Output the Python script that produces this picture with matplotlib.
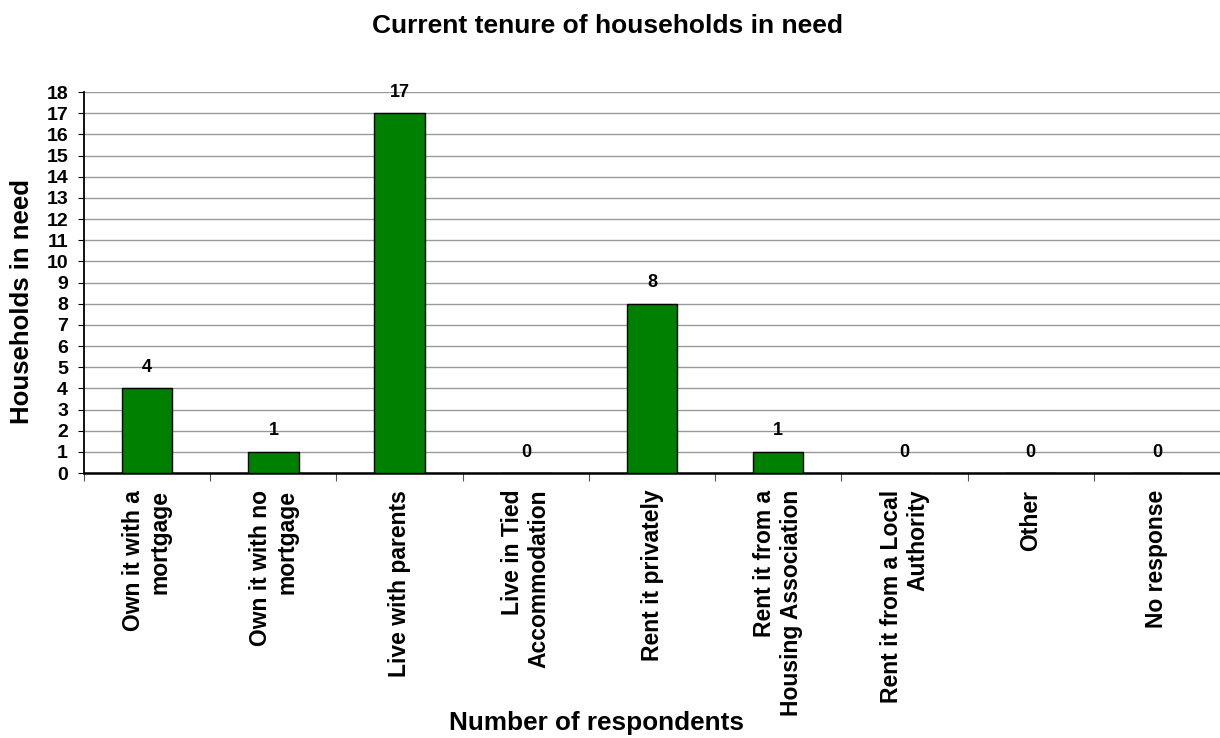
import numpy as np
import matplotlib.pyplot as plt

plt.rcParams['font.family'] = ['Liberation Sans', 'DejaVu Sans']

# ------------------------------------------------------------
# Data
# ------------------------------------------------------------
categories = [
    "Own it with a\nmortgage",
    "Own it with no\nmortgage",
    "Live with parents",
    "Live in Tied\nAccommodation",
    "Rent it privately",
    "Rent it from a\nHousing Association",
    "Rent it from a Local\nAuthority",
    "Other",
    "No response",
]
households = [4, 1, 17, 0, 8, 1, 0, 0, 0]

# ------------------------------------------------------------
# Figure
# ------------------------------------------------------------
fig = plt.figure(figsize=(12.2, 7.38), dpi=100)
ax = fig.add_axes([0.0689, 0.359, 0.9311, 0.5163])

x = np.arange(len(categories))
ax.bar(x, households, width=0.4, color="#008000", edgecolor="black",
       linewidth=1.0, zorder=3)

for xi, v in zip(x, households):
    ax.annotate(str(v), (xi, v), xytext=(0, 9), textcoords="offset points",
                ha="center", va="bottom", fontsize=13, fontweight="bold",
                zorder=4)

ax.set_xlim(-0.5, len(categories) - 0.5)
ax.set_ylim(0, 18)
ax.set_yticks(range(0, 19))
ax.yaxis.grid(True, color="#999999", linewidth=1.0, zorder=0)
ax.set_axisbelow(True)

# ticks at category boundaries, labels at centres
ax.set_xticks(np.arange(-0.5, len(categories) - 0.5, 1.0))
ax.set_xticklabels([])
ax.set_xticks(x, minor=True)
ax.set_xticklabels(categories, minor=True, rotation=90, fontsize=16.5,
                   fontweight="bold", ha="center", va="top",
                   multialignment="right")
ax.tick_params(axis="x", which="minor", length=0, pad=12)
ax.tick_params(axis="x", which="major", length=6, color="#555555")
ax.tick_params(axis="y", length=4.5, labelsize=14, pad=7)
for lab in ax.get_yticklabels():
    lab.set_fontweight("bold")

for side in ["top", "right"]:
    ax.spines[side].set_visible(False)
ax.spines["left"].set_linewidth(1.3)
ax.spines["bottom"].set_linewidth(1.8)

fig.text(0.018, 0.592, "Households in need", rotation=90, ha="center",
         va="center", fontsize=18.5, fontweight="bold")
fig.text(0.489, 0.020, "Number of respondents", ha="center", va="center",
         fontsize=18.8, fontweight="bold")
fig.text(0.498, 0.955, "Current tenure of households in need", ha="center",
         va="baseline", fontsize=19, fontweight="bold")

plt.savefig("out.png", dpi=100)
plt.close()
